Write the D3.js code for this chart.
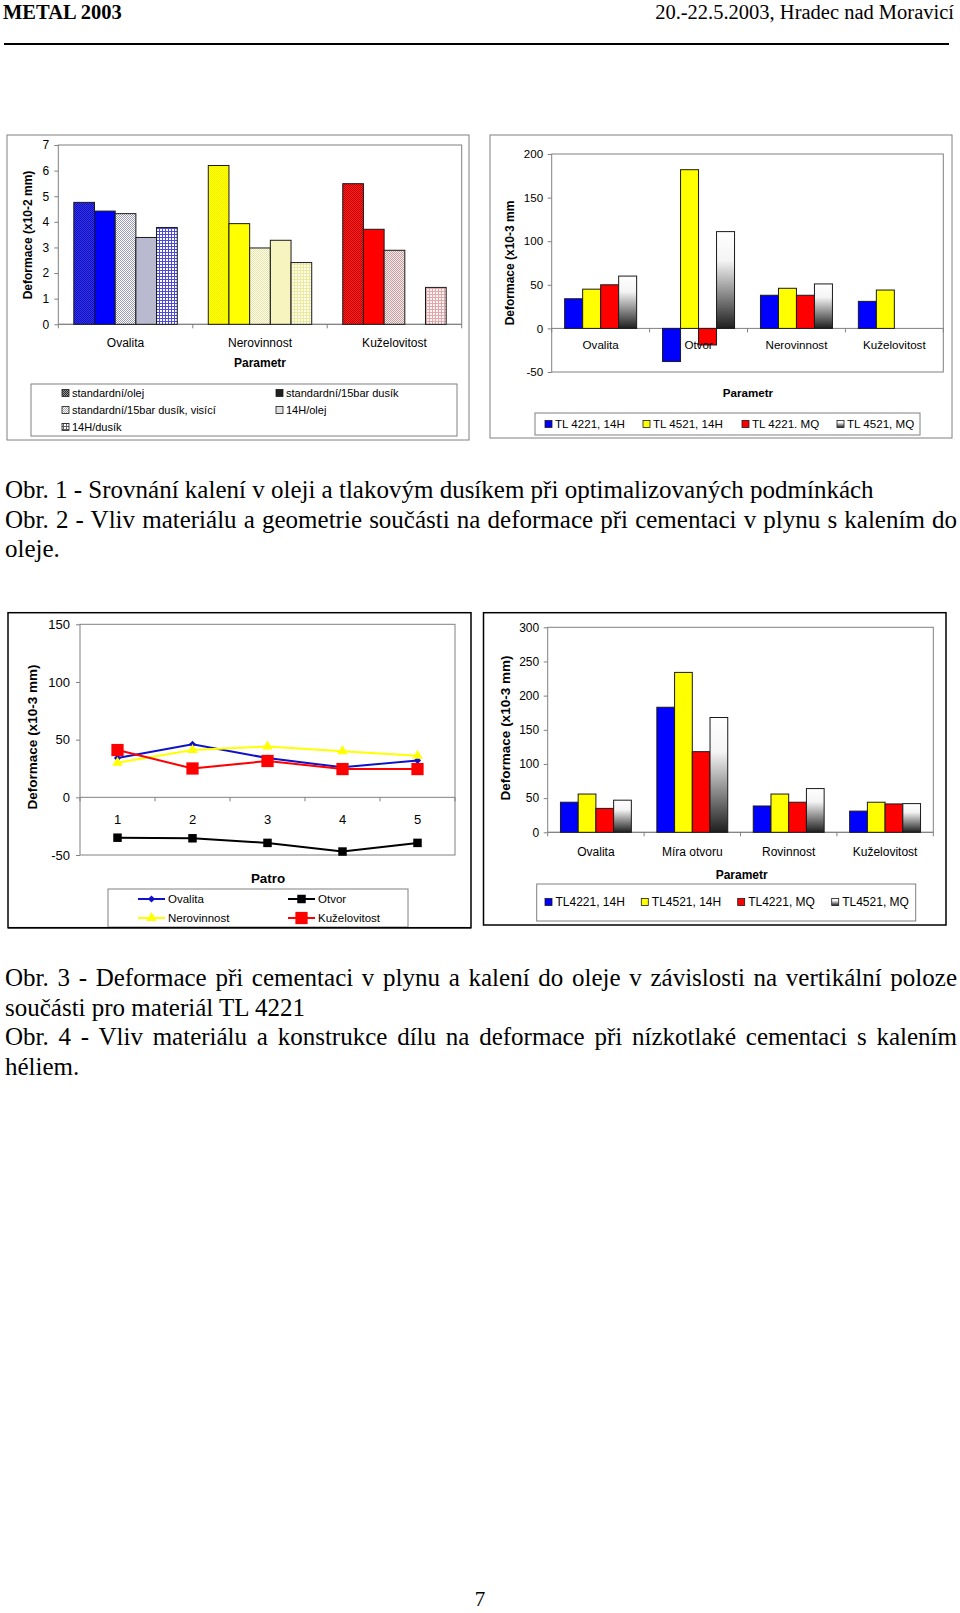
<!DOCTYPE html>
<html>
<head>
<meta charset="utf-8">
<script src="https://cdn.jsdelivr.net/npm/d3@7"></script>
<style>
  body { margin: 0; background: #fff; }
  svg { display: block; }
</style>
</head>
<body>
<div id="page"></div>
<script>
// ---- data: Obr. 1 ----
const cats1 = ["Ovalita", "Nerovinnost", "Kuželovitost"];
const series1 = ["standardní/olej", "standardní/15bar dusík", "standardní/15bar dusík, visící", "14H/olej", "14H/dusík"];
const ovalita1 = [4.76, 4.42, 4.32, 3.39, 3.78];
const nerovinnost1 = [6.2, 3.93, 2.98, 3.28, 2.41];
const kuzelovitost1 = [5.49, 3.71, 2.89, null, 1.44];
const ticks1 = [0, 1, 2, 3, 4, 5, 6, 7];

// ---- data: Obr. 2 ----
const cats2 = ["Ovalita", "Otvor", "Nerovinnost", "Kuželovitost"];
const series2 = ["TL 4221, 14H", "TL 4521, 14H", "TL 4221. MQ", "TL 4521, MQ"];
const ovalita2 = [34, 45, 50, 60];
const otvor2 = [-38, 182, -19, 111];
const nerovinnost2 = [38, 46, 38, 51];
const kuzelovitost2 = [31, 44, null, null];
const ticks2 = [-50, 0, 50, 100, 150, 200];

// ---- data: Obr. 3 ----
const patro3 = [1, 2, 3, 4, 5];
const series3 = ["Ovalita", "Otvor", "Nerovinnost", "Kuželovitost"];
const ovalita3 = [34, 46, 34, 26, 32];
const otvor3 = [-35, -35.5, -39.5, -47, -39.5];
const nerovinnost3 = [30, 41, 44, 40, 36];
const kuzelovitost3 = [41, 25, 31.5, 24.5, 24.5];
const ticks3 = [-50, 0, 50, 100, 150];

// ---- data: Obr. 4 ----
const cats4 = ["Ovalita", "Míra otvoru", "Rovinnost", "Kuželovitost"];
const series4 = ["TL4221, 14H", "TL4521, 14H", "TL4221, MQ", "TL4521, MQ"];
const ovalita4 = [44, 56, 35, 47];
const mira4 = [183, 234, 118, 168];
const rovinnost4 = [38.5, 56, 44, 64];
const kuzelovitost4 = [31, 44, 41.5, 42];
const ticks4 = [0, 50, 100, 150, 200, 250, 300];

// ---- page texts ----
const headLeft = "METAL 2003";
const headRight = "20.-22.5.2003, Hradec nad Moravicí";
const caption1 = [
  "Obr. 1 - Srovnání kalení v oleji a tlakovým dusíkem při optimalizovaných podmínkách",
  "Obr. 2 - Vliv materiálu a geometrie součásti na deformace při cementaci v plynu s kalením do",
  "oleje."
];
const caption2 = [
  "Obr. 3 - Deformace při cementaci v plynu a kalení do oleje v závislosti na vertikální poloze",
  "součásti pro materiál TL 4221",
  "Obr. 4 - Vliv materiálu a konstrukce dílu na deformace při nízkotlaké cementaci s kalením",
  "héliem."
];

const SANS = "'Liberation Sans', Arial, sans-serif";
const SERIF = "'Liberation Serif', 'Times New Roman', serif";
const fmt = d => String(d);   // plain hyphen for negatives, like Excel

const svg = d3.select("#page").append("svg")
  .attr("width", 960)
  .attr("height", 1613);
const defs = svg.append("defs");

// fill patterns (Excel-like textures)
function pattern(id, type, bg, fg) {
  const p = defs.append("pattern").attr("id", id).attr("patternUnits", "userSpaceOnUse");
  if (type === "check") {
    p.attr("width", 2).attr("height", 2);
    p.append("rect").attr("width", 2).attr("height", 2).attr("fill", bg);
    p.append("rect").attr("width", 1).attr("height", 1).attr("fill", fg);
    p.append("rect").attr("x", 1).attr("y", 1).attr("width", 1).attr("height", 1).attr("fill", fg);
  } else if (type === "grid") {
    p.attr("width", 3).attr("height", 3);
    p.append("rect").attr("width", 3).attr("height", 3).attr("fill", bg);
    p.append("rect").attr("width", 3).attr("height", 1).attr("fill", fg);
    p.append("rect").attr("width", 1).attr("height", 3).attr("fill", fg);
  } else {
    p.attr("width", 2).attr("height", 2);
    p.append("rect").attr("width", 2).attr("height", 2).attr("fill", bg);
  }
  return `url(#${id})`;
}

const styles1 = [
  [["check", "#3030ff", "#1414a8"], ["solid", "#0000ff"], ["check", "#ffffff", "#9a9ab8"], ["solid", "#b9b9cf"], ["grid", "#ffffff", "#4b4bd8"]],
  [["check", "#ffff00", "#f0f000"], ["solid", "#ffff00"], ["check", "#fffff0", "#e8e4a8"], ["solid", "#f8f4c0"], ["grid", "#fffff0", "#ecea9c"]],
  [["check", "#ff2020", "#c00000"], ["solid", "#ff0000"], ["check", "#f6e8e8", "#c0a0a0"], ["solid", "#e8d0d0"], ["grid", "#fff4f4", "#e0a8a8"]]
];
const legendStyles1 = [["check", "#909090", "#303030"], ["solid", "#202020"], ["check", "#ffffff", "#a8a8a8"], ["solid", "#e0e0e0"], ["grid", "#ffffff", "#606060"]];

const grad = defs.append("linearGradient").attr("id", "grayGrad")
  .attr("x1", 0).attr("y1", 0).attr("x2", 0).attr("y2", 1);
grad.append("stop").attr("offset", "0%").attr("stop-color", "#ffffff");
grad.append("stop").attr("offset", "30%").attr("stop-color", "#f4f4f4");
grad.append("stop").attr("offset", "100%").attr("stop-color", "#1e1e1e");
const colors24 = ["#0000ff", "#ffff00", "#ff0000", "url(#grayGrad)"];

// ---- header ----
svg.append("text").attr("x", 3).attr("y", 18.5)
  .attr("font-family", SERIF).attr("font-weight", "bold").attr("font-size", 20.5)
  .text(headLeft);
svg.append("text").attr("x", 954).attr("y", 18.5).attr("text-anchor", "end")
  .attr("font-family", SERIF).attr("font-size", 20.5)
  .text(headRight);
svg.append("line").attr("x1", 4).attr("x2", 949).attr("y1", 44).attr("y2", 44)
  .attr("stroke", "#000").attr("stroke-width", 2);

function styleAxis(a, size) {
  a.select(".domain").remove();
  a.selectAll(".tick line").attr("stroke", "#808080");
  a.selectAll("text").attr("font-family", SANS).attr("font-size", size).attr("fill", "#000");
}

// ---- generic bar chart ----
function barChart(c, cats, seriesNames, rows, ticks, fill) {
  const g = svg.append("g");
  g.append("rect").attr("x", c.box[0]).attr("y", c.box[1])
    .attr("width", c.box[2] - c.box[0]).attr("height", c.box[3] - c.box[1])
    .attr("fill", "#fff").attr("stroke", c.boxStroke).attr("stroke-width", c.boxWidth);

  const x = d3.scaleBand().domain(cats).range([c.px0, c.px1]);
  const xs = d3.scaleBand().domain(d3.range(seriesNames.length))
    .range([0, x.bandwidth()]).paddingOuter(c.pad);
  const y = d3.scaleLinear().domain(d3.extent(ticks)).range([c.py1, c.py0]);

  g.append("rect").attr("x", c.px0).attr("y", c.py0)
    .attr("width", c.px1 - c.px0).attr("height", c.py1 - c.py0)
    .attr("fill", "none").attr("stroke", "#808080");

  const ya = g.append("g").attr("transform", `translate(${c.px0},0)`)
    .call(d3.axisLeft(y).tickValues(ticks).tickSize(4).tickPadding(c.tickPad).tickFormat(fmt));
  styleAxis(ya, c.fs);

  g.append("line").attr("x1", c.px0).attr("x2", c.px1)
    .attr("y1", y(0)).attr("y2", y(0)).attr("stroke", "#808080");
  const edges = cats.map(d => x(d)).concat([c.px1]);
  g.selectAll(".edge").data(edges).join("line")
    .attr("x1", d => d).attr("x2", d => d)
    .attr("y1", y(0)).attr("y2", y(0) + 4).attr("stroke", "#808080");

  const bars = cats.flatMap((cat, ci) => rows[ci].map((v, si) => ({ cat, ci, si, v })))
    .filter(d => d.v != null);
  g.selectAll(".bar").data(bars).join("rect")
    .attr("x", d => x(d.cat) + xs(d.si))
    .attr("width", xs.bandwidth())
    .attr("y", d => y(Math.max(0, d.v)))
    .attr("height", d => Math.abs(y(d.v) - y(0)))
    .attr("fill", d => fill(d.ci, d.si))
    .attr("stroke", "#1a1a1a").attr("stroke-width", 1);

  const xa = g.append("g").attr("transform", `translate(0,${y(0)})`)
    .call(d3.axisBottom(x).tickSize(0).tickPadding(c.catPad));
  styleAxis(xa, c.fs);

  g.append("text").attr("transform", `translate(${c.titleX},${c.titleY}) rotate(-90)`)
    .attr("text-anchor", "middle").attr("dy", "0.35em")
    .attr("font-family", SANS).attr("font-weight", "bold").attr("font-size", c.titleFs)
    .text(c.title);
  g.append("text").attr("x", c.xTitle[0]).attr("y", c.xTitle[1]).attr("dy", "0.35em")
    .attr("text-anchor", "middle")
    .attr("font-family", SANS).attr("font-weight", "bold").attr("font-size", c.fs)
    .text(c.xTitleText);
  return g;
}

// ---- Obr. 1 ----
const rows1 = [ovalita1, nerovinnost1, kuzelovitost1];
const g1 = barChart({
  box: [7, 135, 469, 440], boxStroke: "#808080", boxWidth: 1,
  px0: 58.3, px1: 461.7, py0: 145, py1: 324.3, pad: 0.75,
  fs: 12, tickPad: 5, catPad: 14,
  title: "Deformace (x10-2 mm)", titleX: 28, titleY: 235, titleFs: 12,
  xTitle: [260, 363], xTitleText: "Parametr"
}, cats1, series1, rows1, ticks1, (ci, si) => {
  const s = styles1[ci][si];
  return pattern(`p1-${ci}-${si}`, s[0], s[1], s[2]);
});
g1.append("rect").attr("x", 31).attr("y", 384).attr("width", 426).attr("height", 52)
  .attr("fill", "#fff").attr("stroke", "#808080");
series1.forEach((name, i) => {
  const lx = i % 2 === 0 ? 62 : 276;
  const ly = 393 + Math.floor(i / 2) * 17;
  const s = legendStyles1[i];
  g1.append("rect").attr("x", lx).attr("y", ly - 3.5).attr("width", 7).attr("height", 7)
    .attr("fill", pattern(`l1-${i}`, s[0], s[1], s[2])).attr("stroke", "#1a1a1a").attr("stroke-width", 0.8);
  g1.append("text").attr("x", lx + 10).attr("y", ly).attr("dy", "0.35em")
    .attr("font-family", SANS).attr("font-size", 11).text(name);
});

// ---- Obr. 2 ----
const rows2 = [ovalita2, otvor2, nerovinnost2, kuzelovitost2];
const g2 = barChart({
  box: [490, 135, 952, 438], boxStroke: "#808080", boxWidth: 1,
  px0: 551.7, px1: 943.3, py0: 154, py1: 372, pad: 0.72,
  fs: 11.6, tickPad: 4.5, catPad: 12,
  title: "Deformace (x10-3 mm", titleX: 510, titleY: 263, titleFs: 12,
  xTitle: [748, 393], xTitleText: "Parametr"
}, cats2, series2, rows2, ticks2, (ci, si) => colors24[si]);
g2.append("rect").attr("x", 535).attr("y", 413).attr("width", 385).attr("height", 22)
  .attr("fill", "#fff").attr("stroke", "#808080");
const leg2x = [545, 643, 742, 837];
series2.forEach((name, i) => {
  g2.append("rect").attr("x", leg2x[i]).attr("y", 420.5).attr("width", 7).attr("height", 7)
    .attr("fill", colors24[i]).attr("stroke", "#1a1a1a").attr("stroke-width", 0.8);
  g2.append("text").attr("x", leg2x[i] + 10).attr("y", 424).attr("dy", "0.35em")
    .attr("font-family", SANS).attr("font-size", 11.6).text(name);
});

// ---- Obr. 3 ----
const g3 = svg.append("g");
const c3 = { px0: 80, px1: 455, py0: 624.3, py1: 855 };
g3.append("rect").attr("x", 8).attr("y", 612.7).attr("width", 463).attr("height", 315)
  .attr("fill", "#fff").attr("stroke", "#000").attr("stroke-width", 1.5);
const x3 = d3.scaleBand().domain(patro3).range([c3.px0, c3.px1]);
const y3 = d3.scaleLinear().domain(d3.extent(ticks3)).range([c3.py1, c3.py0]);
g3.append("rect").attr("x", c3.px0).attr("y", c3.py0)
  .attr("width", c3.px1 - c3.px0).attr("height", c3.py1 - c3.py0)
  .attr("fill", "none").attr("stroke", "#808080");
const ya3 = g3.append("g").attr("transform", `translate(${c3.px0},0)`)
  .call(d3.axisLeft(y3).tickValues(ticks3).tickSize(4).tickPadding(6).tickFormat(fmt));
styleAxis(ya3, 13);
g3.append("line").attr("x1", c3.px0).attr("x2", c3.px1)
  .attr("y1", y3(0)).attr("y2", y3(0)).attr("stroke", "#808080");
g3.selectAll(".edge").data(patro3.map(d => x3(d)).concat([c3.px1])).join("line")
  .attr("x1", d => d).attr("x2", d => d)
  .attr("y1", y3(0)).attr("y2", y3(0) + 4).attr("stroke", "#808080");
const xa3 = g3.append("g").attr("transform", `translate(0,${y3(0)})`)
  .call(d3.axisBottom(x3).tickSize(0).tickPadding(17));
styleAxis(xa3, 13);

const lineSeries3 = [
  { name: series3[0], vals: ovalita3, color: "#1010c8", sym: d3.symbolSquare, size: 26, rot: 45 },
  { name: series3[1], vals: otvor3, color: "#000000", sym: d3.symbolSquare, size: 72, rot: 0 },
  { name: series3[2], vals: nerovinnost3, color: "#ffff00", sym: d3.symbolTriangle, size: 48, rot: 0 },
  { name: series3[3], vals: kuzelovitost3, color: "#ff0000", sym: d3.symbolSquare, size: 150, rot: 0 }
];
const px3 = d => x3(d) + x3.bandwidth() / 2;
lineSeries3.forEach(s => {
  const pts = patro3.map((p, i) => [px3(p), y3(s.vals[i])]);
  g3.append("path").attr("d", d3.line()(pts))
    .attr("fill", "none").attr("stroke", s.color).attr("stroke-width", 2);
  g3.selectAll(null).data(pts).join("path")
    .attr("d", d3.symbol().type(s.sym).size(s.size))
    .attr("transform", d => `translate(${d[0]},${d[1]}) rotate(${s.rot})`)
    .attr("fill", s.color);
});
g3.append("text").attr("transform", "translate(32,737) rotate(-90)")
  .attr("text-anchor", "middle").attr("dy", "0.35em")
  .attr("font-family", SANS).attr("font-weight", "bold").attr("font-size", 13.5)
  .text("Deformace (x10-3 mm)");
g3.append("text").attr("x", 268).attr("y", 878.5).attr("dy", "0.35em")
  .attr("text-anchor", "middle")
  .attr("font-family", SANS).attr("font-weight", "bold").attr("font-size", 13.4)
  .text("Patro");
g3.append("rect").attr("x", 108).attr("y", 889).attr("width", 300).attr("height", 38)
  .attr("fill", "#fff").attr("stroke", "#808080");
lineSeries3.forEach((s, i) => {
  const lx = i % 2 === 0 ? 138 : 288;
  const ly = 899 + Math.floor(i / 2) * 19;
  g3.append("line").attr("x1", lx).attr("x2", lx + 27).attr("y1", ly).attr("y2", ly)
    .attr("stroke", s.color).attr("stroke-width", 2);
  g3.append("path").attr("d", d3.symbol().type(s.sym).size(s.size))
    .attr("transform", `translate(${lx + 13.5},${ly}) rotate(${s.rot})`)
    .attr("fill", s.color);
  g3.append("text").attr("x", lx + 30).attr("y", ly).attr("dy", "0.35em")
    .attr("font-family", SANS).attr("font-size", 11.5).text(s.name);
});
g3.append("line").attr("x1", 8).attr("x2", 471).attr("y1", 927.7).attr("y2", 927.7)
  .attr("stroke", "#000").attr("stroke-width", 1.5);

// ---- Obr. 4 ----
const rows4 = [ovalita4, mira4, rovinnost4, kuzelovitost4];
const g4 = barChart({
  box: [483.5, 612.7, 946, 925], boxStroke: "#000", boxWidth: 1.5,
  px0: 547.7, px1: 933.3, py0: 627.3, py1: 832.3, pad: 0.72,
  fs: 12, tickPad: 4.5, catPad: 15,
  title: "Deformace (x10-3 mm)", titleX: 505, titleY: 728, titleFs: 13.5,
  xTitle: [741.7, 875], xTitleText: "Parametr"
}, cats4, series4, rows4, ticks4, (ci, si) => colors24[si]);
g4.append("rect").attr("x", 536.7).attr("y", 884).attr("width", 379).attr("height", 37)
  .attr("fill", "#fff").attr("stroke", "#808080");
const leg4x = [545, 641.3, 737.7, 831.7];
series4.forEach((name, i) => {
  g4.append("rect").attr("x", leg4x[i]).attr("y", 898.5).attr("width", 7).attr("height", 7)
    .attr("fill", colors24[i]).attr("stroke", "#1a1a1a").attr("stroke-width", 0.8);
  g4.append("text").attr("x", leg4x[i] + 10.5).attr("y", 902).attr("dy", "0.35em")
    .attr("font-family", SANS).attr("font-size", 12).text(name);
});

// ---- captions ----
function captionBlock(lines, justified, y0, lh) {
  lines.forEach((line, i) => {
    const t = svg.append("text").attr("x", 5).attr("y", y0 + i * lh)
      .attr("font-family", SERIF).attr("font-size", 25).text(line);
    if (justified[i]) {
      const w = t.node().getComputedTextLength();
      const gaps = line.split(" ").length - 1;
      t.attr("word-spacing", (952 - w) / gaps);
    }
  });
}
captionBlock(caption1, [false, true, false], 498, 29.5);
captionBlock(caption2, [true, false, true, false], 986, 29.5);

svg.append("text").attr("x", 480).attr("y", 1606).attr("text-anchor", "middle")
  .attr("font-family", SERIF).attr("font-size", 21).text("7");
</script>
</body>
</html>
